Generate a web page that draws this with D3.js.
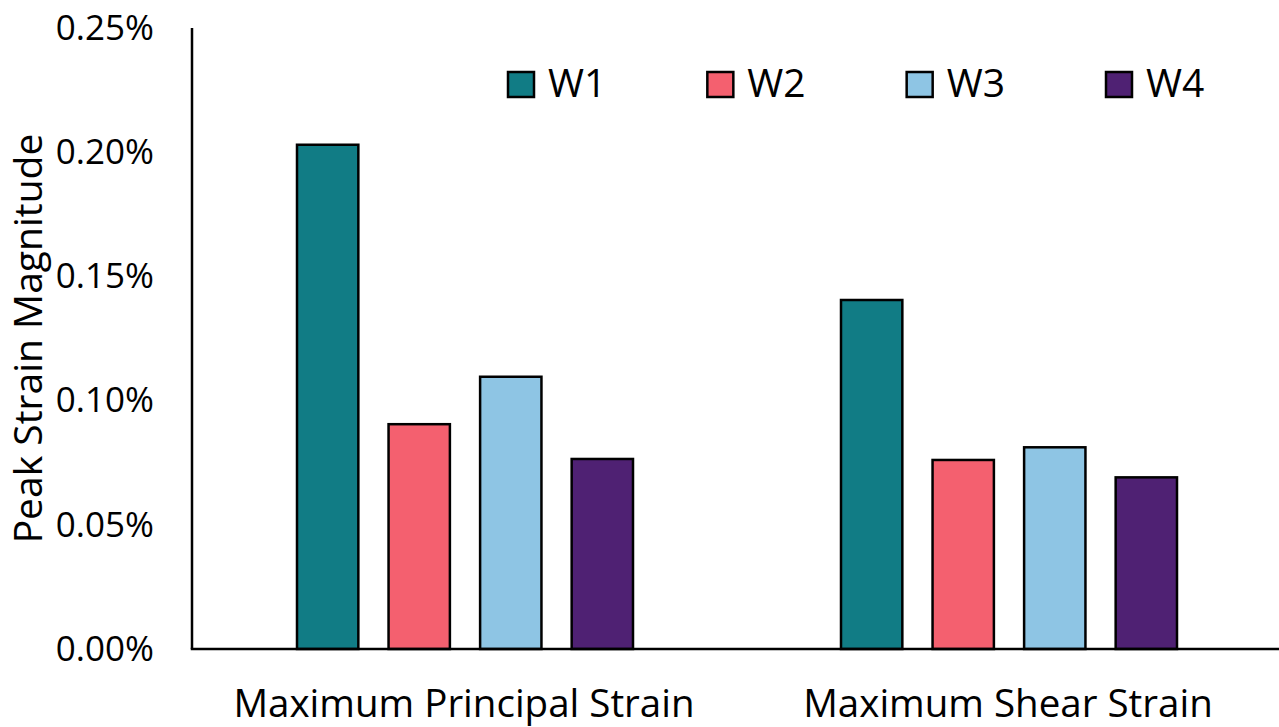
<!DOCTYPE html>
<html>
<head>
<meta charset="utf-8">
<script src="https://cdn.jsdelivr.net/npm/d3@7"></script>
<style>
  html, body { margin: 0; padding: 0; background: #fff; }
  svg { display: block; }
  text { font-family: "Open Sans", "Noto Sans", sans-serif; fill: #000; }
</style>
</head>
<body>
<svg id="chart" width="1279" height="727"></svg>
<script>
// ---- data ----
const categories = ["Maximum Principal Strain", "Maximum Shear Strain"];
const series = ["W1", "W2", "W3", "W4"];
const colors = ["#117C85", "#F4606F", "#8EC5E4", "#4F2173"];
const W1 = [0.203, 0.1405];
const W2 = [0.0905, 0.0761];
const W3 = [0.1096, 0.0812];
const W4 = [0.0765, 0.0691];
const yTicks = [0, 0.05, 0.10, 0.15, 0.20, 0.25];
const yTitle = "Peak Strain Magnitude";

const values = { W1, W2, W3, W4 };

const svg = d3.select("#chart");
const mLeft = 192, mRight = 1280, mTop = 28, mBottom = 649;

const x0 = d3.scaleBand().domain(categories).range([mLeft, mRight]).padding(0);
const bw = x0.bandwidth();
const x1 = d3.scaleBand().domain(series).range([105, bw - 103]).paddingInner(0.33).paddingOuter(0);
const y = d3.scaleLinear().domain([0, 0.25]).range([mBottom, mTop]);
const color = d3.scaleOrdinal().domain(series).range(colors);

// bars
const groups = svg.append("g").selectAll("g")
  .data(categories)
  .join("g")
  .attr("transform", d => `translate(${x0(d)},0)`);

groups.selectAll("rect")
  .data((c, i) => series.map(s => ({ s, v: values[s][i] })))
  .join("rect")
  .attr("x", d => x1(d.s))
  .attr("width", x1.bandwidth())
  .attr("y", d => y(d.v))
  .attr("height", d => y(0) - y(d.v))
  .attr("fill", d => color(d.s))
  .attr("stroke", "#000")
  .attr("stroke-width", 2.5);

// y axis
const yAxis = d3.axisLeft(y).tickValues(yTicks)
  .tickFormat(d => d.toFixed(2) + "%").tickSize(0).tickPadding(38);
const gy = svg.append("g").attr("transform", `translate(${mLeft},0)`).call(yAxis);
gy.select(".domain").remove();
gy.selectAll("text").attr("font-size", 35).attr("font-family", "'Open Sans', sans-serif").attr("fill", "#000");

svg.append("line").attr("x1", mLeft).attr("x2", mLeft).attr("y1", mTop).attr("y2", mBottom)
  .attr("stroke", "#000").attr("stroke-width", 2.5);

// x axis
const xAxis = d3.axisBottom(x0).tickSize(0).tickPadding(41);
const gx = svg.append("g").attr("transform", `translate(0,${mBottom})`).call(xAxis);
gx.select(".domain").remove();
gx.selectAll("text").attr("font-size", 38.5).attr("font-family", "'Open Sans', sans-serif").attr("fill", "#000");

svg.append("line").attr("x1", mLeft - 1.25).attr("x2", 1279).attr("y1", mBottom).attr("y2", mBottom)
  .attr("stroke", "#000").attr("stroke-width", 2.5);

// y title
svg.append("text")
  .attr("transform", `translate(42,${(mTop + mBottom) / 2}) rotate(-90)`)
  .attr("text-anchor", "middle")
  .attr("font-size", 39)
  .text(yTitle);

// legend
const legendX = d3.scalePoint().domain(series).range([508, 1106]);
const lg = svg.append("g").selectAll("g").data(series).join("g")
  .attr("transform", d => `translate(${legendX(d)},72)`);
lg.append("rect").attr("width", 26).attr("height", 25)
  .attr("fill", d => color(d)).attr("stroke", "#000").attr("stroke-width", 2.5);
lg.append("text").attr("x", 40).attr("y", 25).attr("font-size", 39).text(d => d);
</script>
</body>
</html>
